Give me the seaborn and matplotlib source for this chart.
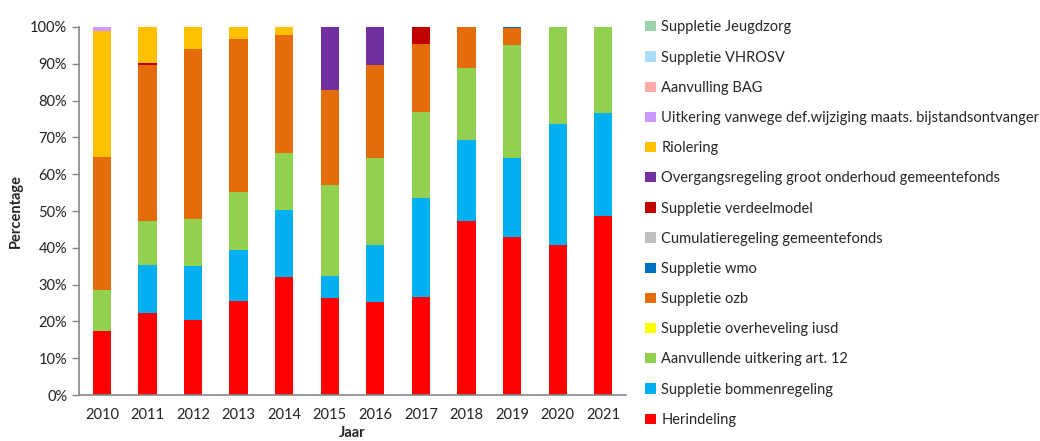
import numpy as np
import pandas as pd
import matplotlib.pyplot as plt
import seaborn as sns
from matplotlib.patches import Patch
from matplotlib.ticker import FixedLocator, PercentFormatter

# ─── Data (percent of total per year) ─────────────────────
years = [2010, 2011, 2012, 2013, 2014, 2015, 2016, 2017, 2018, 2019, 2020, 2021]

herindeling    = [17.3, 22.2, 20.4, 25.5, 32.0, 26.4, 25.4, 26.7, 47.3, 42.9, 40.7, 48.6]
bommenregeling = [0.0, 13.2, 14.7, 13.9, 18.4, 5.9, 15.3, 26.9, 22.1, 21.5, 32.9, 28.0]
art12          = [11.3, 12.0, 12.7, 15.8, 15.4, 24.8, 23.7, 23.2, 19.4, 30.6, 26.4, 23.4]
iusd           = [0.0] * 12
ozb            = [36.1, 42.3, 46.3, 41.6, 31.9, 25.9, 25.2, 18.6, 11.2, 4.7, 0.0, 0.0]
wmo            = [0.0, 0.0, 0.0, 0.0, 0.0, 0.0, 0.0, 0.0, 0.0, 0.3, 0.0, 0.0]
cumulatie      = [0.0] * 12
verdeelmodel   = [0.0, 0.4, 0.0, 0.0, 0.0, 0.0, 0.0, 4.6, 0.0, 0.0, 0.0, 0.0]
overgang       = [0.0, 0.0, 0.0, 0.0, 0.0, 17.0, 10.4, 0.0, 0.0, 0.0, 0.0, 0.0]
riolering      = [34.2, 9.9, 5.9, 3.2, 2.3, 0.0, 0.0, 0.0, 0.0, 0.0, 0.0, 0.0]
uitkering      = [1.1, 0.0, 0.0, 0.0, 0.0, 0.0, 0.0, 0.0, 0.0, 0.0, 0.0, 0.0]
bag            = [0.0] * 12
vhrosv         = [0.0] * 12
jeugdzorg      = [0.0] * 12

# legend order (top to bottom); stacking is bottom = last
series = [
    ("Suppletie Jeugdzorg", jeugdzorg, "#9BD3AE"),
    ("Suppletie VHROSV", vhrosv, "#A9DCF9"),
    ("Aanvulling BAG", bag, "#FFAAAA"),
    ("Uitkering vanwege def.wijziging maats. bijstandsontvanger", uitkering, "#CC99FF"),
    ("Riolering", riolering, "#FFC000"),
    ("Overgangsregeling groot onderhoud gemeentefonds", overgang, "#7030A0"),
    ("Suppletie verdeelmodel", verdeelmodel, "#C00000"),
    ("Cumulatieregeling gemeentefonds", cumulatie, "#BFBFBF"),
    ("Suppletie wmo", wmo, "#0070C0"),
    ("Suppletie ozb", ozb, "#E46C0A"),
    ("Suppletie overheveling iusd", iusd, "#FFFF00"),
    ("Aanvullende uitkering art. 12", art12, "#92D050"),
    ("Suppletie bommenregeling", bommenregeling, "#00B0F0"),
    ("Herindeling", herindeling, "#FF0000"),
]

rows = []
for name, vals, _ in series:
    for yr, v in zip(years, vals):
        rows.append({"Jaar": yr, "Onderdeel": name, "Pct": v})
df = pd.DataFrame(rows)

hue_order = [s[0] for s in series]
palette = {s[0]: s[2] for s in series}

# ─── Style ────────────────────────────────────────────────
sns.set_theme(style="white")
plt.rcParams["font.family"] = ["Lato", "DejaVu Sans"]

fig = plt.figure(figsize=(10.4, 4.41), dpi=100)
ax = fig.add_axes([0.076, 0.104, 0.526, 0.835])

sns.histplot(data=df, x="Jaar", weights="Pct", hue="Onderdeel",
             hue_order=hue_order, palette=palette, multiple="stack",
             discrete=True, shrink=0.4, alpha=1, linewidth=0,
             legend=False, ax=ax)

ax.set_xlim(years[0] - 0.5, years[-1] + 0.5)
ax.set_ylim(0, 100)
ax.yaxis.set_major_locator(FixedLocator(np.arange(0, 101, 10)))
ax.yaxis.set_major_formatter(PercentFormatter(decimals=0))
ax.set_xticks(years)
ax.set_xticklabels([str(y) for y in years])
ax.xaxis.set_minor_locator(FixedLocator(np.arange(years[0] - 0.5, years[-1] + 1, 1)))
ax.tick_params(axis="x", which="major", length=0, labelsize=10.5, pad=9, labelcolor="#222222")
ax.tick_params(axis="x", which="minor", length=5, width=1, color="#888888", direction="out")
ax.tick_params(axis="y", length=5, width=1, color="#888888", direction="out",
               labelsize=10.5, labelcolor="#222222", left=True)

sns.despine(ax=ax)
for side in ["left", "bottom"]:
    ax.spines[side].set_color("#888888")
    ax.spines[side].set_linewidth(1.2)

ax.set_xlabel("Jaar", fontsize=10.5, fontweight="bold", labelpad=3.5)
ax.set_ylabel("Percentage", fontsize=10.5, fontweight="bold", labelpad=5)
ax.grid(False)

handles = [Patch(facecolor=c, edgecolor="none", label=n) for n, _, c in series]
fig.legend(handles=handles, loc="upper left", bbox_to_anchor=(0.615, 0.967),
           frameon=False, fontsize=10.5, handlelength=0.7, handleheight=0.7,
           handletextpad=0.4, labelspacing=1.11, borderaxespad=0)

plt.savefig("out.png", dpi=100)
plt.close()
